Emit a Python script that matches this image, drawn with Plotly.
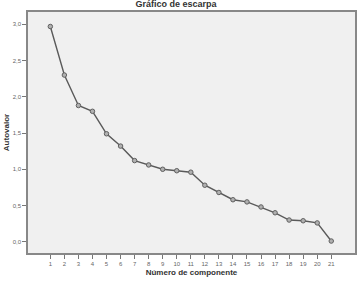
import plotly.graph_objects as go

componentes = list(range(1, 22))
autovalores = [2.97, 2.30, 1.88, 1.80, 1.49, 1.32, 1.12, 1.06, 1.00, 0.98, 0.96,
               0.78, 0.68, 0.58, 0.55, 0.48, 0.40, 0.30, 0.29, 0.26, 0.01]
y_ticks = [0, 0.5, 1.0, 1.5, 2.0, 2.5, 3.0]
y_labels = ["0,0", "0,5", "1,0", "1,5", "2,0", "2,5", "3,0"]

fig = go.Figure()
fig.add_trace(go.Scatter(
    x=componentes, y=autovalores, mode="lines+markers",
    line=dict(color="#5a5a5a", width=1.4),
    marker=dict(symbol="circle", size=4.5, color="#b0b0b0",
                line=dict(color="#606060", width=1)),
    showlegend=False, hoverinfo="skip"))

fig.update_layout(
    width=362, height=281,
    margin=dict(l=27, r=5, t=12, b=26),
    paper_bgcolor="white", plot_bgcolor="#f0f0f0",
    font=dict(family="Liberation Sans, Arial, sans-serif", color="#333"),
    title=dict(text="<b>Gráfico de escarpa</b>", x=0.486, xanchor="center",
               yref="container", y=0.998, yanchor="top",
               font=dict(size=9, color="#333")),
)
fig.update_xaxes(
    range=[-0.59, 22.69], tickmode="array", tickvals=componentes,
    ticktext=[str(c) for c in componentes],
    ticks="outside", ticklen=4, tickcolor="#777", tickwidth=1,
    tickfont=dict(size=6, color="#666"),
    showgrid=False, zeroline=False,
    showline=True, linecolor="#888", linewidth=1.5, mirror=True,
    title=dict(text="<b>Número de componente</b>", font=dict(size=8, color="#333"), standoff=3),
)
fig.update_yaxes(
    range=[-0.155, 3.17], tickmode="array", tickvals=y_ticks, ticktext=y_labels,
    ticks="outside", ticklen=4, tickcolor="#777", tickwidth=1,
    tickfont=dict(size=6, color="#666"),
    showgrid=False, zeroline=False,
    showline=True, linecolor="#888", linewidth=1.5, mirror=True,
    title=dict(text="<b>Autovalor</b>", font=dict(size=8, color="#333"), standoff=2),
)

fig.write_html("out.html")
